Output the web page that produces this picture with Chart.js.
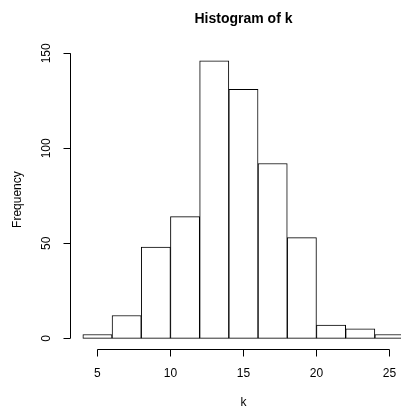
<!DOCTYPE html>
<html>
<head>
<meta charset="utf-8">
<script src="https://cdn.jsdelivr.net/npm/chart.js@4"></script>
<style>
  html, body { margin: 0; padding: 0; background: #fff; }
  #wrap { width: 401px; height: 410px; }
</style>
</head>
<body>
<div id="wrap"><canvas id="histChart"></canvas></div>
<script>
// bins of width 2, from 4 to 26
const binStarts = [4, 6, 8, 10, 12, 14, 16, 18, 20, 22, 24];
const binWidth = 2;
const counts = [2, 12, 48, 64, 146, 131, 92, 53, 7, 5, 2];
const xTicks = [5, 10, 15, 20, 25];
const yTicks = [0, 50, 100, 150];
const titleText = 'Histogram of k';
const xLabel = 'k';

const FONT = 'Liberation Sans, Arial, Helvetica, sans-serif';
// R's plot region runs a bit past the right edge of the picture
const plotXmax = 26.88;

// R style axes: line only between first and last tick, ticks pointing out
const rAxes = {
  id: 'rAxes',
  afterDraw(chart) {
    const ctx = chart.ctx;
    const x = chart.scales.x, y = chart.scales.y;
    const area = chart.chartArea;
    const midX = (area.left + x.getPixelForValue(plotXmax)) / 2;
    const tick = 7;
    ctx.save();
    ctx.strokeStyle = '#000';
    ctx.lineWidth = 1;
    ctx.fillStyle = '#000';
    ctx.textAlign = 'center';
    ctx.textBaseline = 'middle';

    // title and x label, centred over the whole plot region like R does
    ctx.font = 'bold 14px ' + FONT;
    ctx.fillText(titleText, midX, 19);
    ctx.font = '12px ' + FONT;
    ctx.fillText(xLabel, midX, 403);

    // x axis
    const by = Math.round(area.bottom) + 0.5;
    ctx.beginPath();
    ctx.moveTo(x.getPixelForValue(xTicks[0]), by);
    ctx.lineTo(x.getPixelForValue(xTicks[xTicks.length - 1]), by);
    xTicks.forEach(v => {
      const px = Math.round(x.getPixelForValue(v)) + 0.5;
      ctx.moveTo(px, by);
      ctx.lineTo(px, by + tick);
    });
    ctx.stroke();
    xTicks.forEach(v => ctx.fillText(String(v), x.getPixelForValue(v), 374));

    // y axis
    const lx = Math.round(area.left) + 0.5;
    ctx.beginPath();
    ctx.moveTo(lx, y.getPixelForValue(yTicks[0]));
    ctx.lineTo(lx, y.getPixelForValue(yTicks[yTicks.length - 1]));
    yTicks.forEach(v => {
      const py = Math.round(y.getPixelForValue(v)) + 0.5;
      ctx.moveTo(lx, py);
      ctx.lineTo(lx - tick, py);
    });
    ctx.stroke();
    yTicks.forEach(v => {
      ctx.save();
      ctx.translate(47, y.getPixelForValue(v));
      ctx.rotate(-Math.PI / 2);
      ctx.fillText(String(v), 0, 0);
      ctx.restore();
    });
    ctx.restore();
  }
};

const ctx = document.getElementById('histChart').getContext('2d');
new Chart(ctx, {
  type: 'bar',
  data: {
    datasets: [{
      data: binStarts.map((s, i) => ({ x: s + binWidth / 2, y: counts[i] })),
      backgroundColor: '#fff',
      borderColor: '#000',
      borderWidth: 1,
      borderSkipped: false,
      barPercentage: 1,
      categoryPercentage: 1
    }]
  },
  options: {
    responsive: true,
    maintainAspectRatio: false,
    animation: false,
    layout: { padding: { top: 49.8 } },
    plugins: {
      legend: { display: false },
      tooltip: { enabled: false },
      title: { display: false }
    },
    scales: {
      x: {
        type: 'linear',
        offset: false,
        min: 3.12,
        max: 25.79,
        grid: { display: false, offset: false },
        border: { display: false },
        ticks: { display: false },
        afterFit: s => { s.height = 60.6; }
      },
      y: {
        min: -5.84,
        max: 151.84,
        grid: { display: false },
        border: { display: false },
        ticks: { display: false },
        title: {
          display: true,
          text: 'Frequency',
          color: '#000',
          font: { family: FONT, size: 12, lineHeight: 1.2 },
          padding: { top: 10.6, bottom: 0 }
        },
        afterFit: s => { s.width = 70; }
      }
    }
  },
  plugins: [rAxes]
});
</script>
</body>
</html>
